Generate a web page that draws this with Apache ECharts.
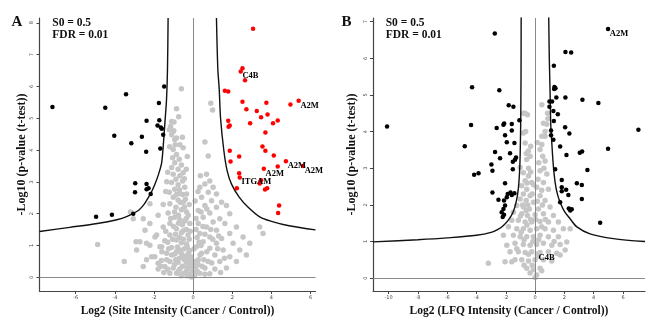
<!DOCTYPE html>
<html><head><meta charset="utf-8">
<script src="https://cdn.jsdelivr.net/npm/echarts@6/dist/echarts.min.js"></script>
<style>html,body{margin:0;padding:0;background:#fff}#c{width:648px;height:322px}</style>
</head><body><div id="c"></div>
<script>
// ---------- tick labels ----------
const aXTicks = [-6, -4, -2, 0, 2, 4, 6];
const aYTicks = [0, 1, 2, 3, 4, 5, 6, 7, 8];
const bXTicks = [-10, -8, -6, -4, -2, 0, 2, 4, 6];
const bYTicks = [0, 1, 2, 3, 4, 5, 6, 7];

// ---------- panel A (Site Intensity) ----------
const aGray = [
[-0.6,5.93],[-0.74,5.05],[-0.98,4.88],[-1.1,4.9],[-1.15,4.74],[-1.22,4.64],[-0.99,4.61],[-1.02,4.58],[-1.1,4.48],[-0.85,4.38],[-0.94,4.33],[-0.92,4.17],[-0.68,4.17],[-0.51,4.07],[-1.02,4.02],[-0.85,3.86],[-1.05,3.76],[-0.71,3.71],[-0.94,3.6],[-0.6,3.53],[-1.1,3.45],[-0.77,3.4],[-0.51,3.29],[-1.02,3.24],[-0.68,3.19],[-0.88,3.08],[-0.45,3.1],[-0.54,3.03],[-1.1,2.98],[-0.77,2.91],[-0.43,2.83],[-0.7,2.75],[-0.94,2.77],[-1.22,2.67],[-0.68,2.64],[-0.34,2.62],[-0.55,2.6],[-1.02,2.52],[-0.77,2.43],[-0.51,2.36],[-1.19,2.31],[-1.53,2.29],[-0.2,2.29],[-0.88,2.2],[-0.6,2.12],[-0.34,2.05],[-1.28,2.02],[-1.79,1.95],[-0.94,1.89],[-0.75,1.95],[-0.35,1.85],[-0.68,1.81],[-0.43,1.77],[-2.21,2.31],[-2.55,1.84],[-3.06,1.84],[-3.2,2.05],[-1.19,1.69],[-2.21,1.69],[-0.17,1.69],[-1.0,1.6],[-1.53,1.58],[-0.85,1.53],[-0.51,1.46],[-1.4,1.45],[-0.6,1.4],[-1.87,1.33],[-1.19,1.33],[-0.26,1.33],[-0.2,1.2],[-2.72,1.12],[-1.45,1.15],[-0.85,1.17],[-0.6,1.09],[-1.3,1.1],[-0.34,1.05],[-2.21,1.01],[-1.7,0.96],[-0.8,0.95],[-1.1,0.94],[-0.45,0.9],[-0.68,0.86],[-0.17,0.84],[-2.89,0.86],[-1.6,0.8],[-1.36,0.76],[-0.25,0.75],[-0.94,0.73],[-0.48,0.67],[-1.96,0.65],[-0.7,0.6],[-0.3,0.6],[-2.38,0.55],[-1.62,0.53],[-1.19,0.5],[-0.77,0.47],[-0.34,0.45],[-0.09,0.5],[-0.95,0.4],[-1.45,0.34],[-0.15,0.35],[-1.02,0.29],[-0.68,0.26],[-0.31,0.24],[-1.79,0.26],[-0.85,0.13],[-0.51,0.11],[-0.4,0.15],[-0.17,0.08],[-1.19,0.13],[-0.09,0.01],[-0.05,0.2],
[-4.88,1.03],[-3.52,0.5],[-2.92,1.12],[-2.46,1.48],[-2.38,1.07],[-2.55,0.34],[-2.12,0.65],[-1.95,1.27],[-1.79,0.44],[-1.61,0.96],
[-0.2,0.1],[-0.3,0.3],[-0.55,0.35],[-0.75,0.2],[-0.9,0.55],[-1.1,0.7],[-1.25,0.9],[-1.05,1.2],[-0.9,1.35],[-0.7,1.25],[-0.5,1.2],[-0.35,1.5],[-0.15,1.45],[-0.55,1.65],[-0.75,1.7],[-0.95,2.05],[-1.15,1.85],[-0.45,2.2],[-0.25,1.95],[-0.65,2.35],[-0.85,2.6],[-0.4,2.45],[-0.3,0.95],[-0.1,0.65],[-0.6,0.75],[-0.85,0.8],[-1.35,0.55],[-1.5,0.15],[-1.3,0.25],[-1.65,0.35],[-0.25,0.45],[-0.45,0.55],[-0.62,0.05],[-0.3,0.05],
[-1.4,2.7],[-1.3,3.3],[-0.35,3.4],[-0.3,3.8],[-0.55,4.4],[-0.85,5.3],[-1.2,4.1],[-1.35,3.0],
[0.9,5.47],[0.99,5.26],[0.6,4.25],[0.77,3.81],[0.37,3.19],[0.68,3.24],[0.85,3.03],[0.6,2.93],[0.34,2.83],[1.02,2.83],[0.77,2.67],[1.19,2.62],[0.43,2.52],[0.94,2.41],[1.45,2.36],[0.6,2.26],[1.19,2.2],[1.7,2.26],[0.26,2.1],[0.85,2.02],[1.87,2.0],[0.51,1.89],[1.36,1.84],[1.02,1.74],[0.26,1.69],[1.62,1.69],[0.68,1.58],[2.21,1.58],[1.19,1.48],[0.34,1.38],[1.87,1.38],[0.85,1.27],[1.45,1.22],[2.55,1.27],[0.51,1.12],[1.19,1.07],[2.04,1.07],[2.89,1.07],[0.17,0.96],[0.85,0.91],[1.53,0.86],[2.38,0.86],[0.43,0.76],[1.11,0.7],[1.87,0.65],[2.72,0.7],[0.26,0.55],[0.77,0.5],[1.36,0.5],[2.21,0.5],[0.14,0.34],[0.6,0.29],[1.11,0.26],[1.7,0.29],[0.34,0.13],[0.85,0.11],[0.09,0.08],[3.4,1.58],[3.57,1.38],
[0.1,0.5],[0.2,0.2],[0.05,0.9],[0.3,1.1],[0.15,1.5],[0.45,0.35],[0.02,0.35],[0.05,0.05],[0.25,0.4],[0.35,0.7],[0.55,0.55],[0.7,0.8],[0.4,1.0],[0.2,1.25],[0.6,1.35],[0.9,1.5],[0.5,1.6],[0.15,1.85],[0.4,2.05],[0.7,2.15],[1.0,1.2],[1.25,0.9],[0.95,0.45],[0.6,0.1],[1.4,0.15],[1.6,0.6],[1.3,1.3],[0.1,2.4],[0.25,2.7]
];
const aBlack = [
[-7.19,5.35],[-4.49,5.33],[-3.43,5.75],[-1.48,6.0],[-1.75,5.48],[-2.38,4.92],[-1.73,4.94],[-1.82,4.77],[-1.65,4.71],[-1.6,4.67],[-1.53,4.48],[-4.03,4.45],[-2.62,4.42],[-3.16,4.21],[-2.4,3.95],[-1.68,4.05],[-2.96,2.96],[-2.38,2.93],[-2.97,2.67],[-2.38,2.77],[-2.28,2.8],[-2.17,2.62],[-4.96,1.9],[-4.15,1.97],[-3.06,2.0]
];
const aRed = [
[3.06,7.81],[2.52,6.57],[2.43,6.47,'C4B'],[2.65,6.19],[1.62,5.86],[1.79,5.84],[2.52,5.52],[3.74,5.49],[5.39,5.55,'A2M'],[4.97,5.43],[2.72,5.28],[3.25,5.23],[3.8,5.12],[3.47,5.03],[4.32,4.93],[4.08,4.84],[1.79,4.92],[1.87,4.77],[1.81,4.73],[2.91,4.84],[3.69,4.55],[3.54,4.11],[3.69,3.98],[1.87,3.98],[2.35,3.8],[4.12,3.83],[1.91,3.64],[4.74,3.65,'A2M'],[4.32,3.48],[5.61,3.5,'A2M'],[3.61,3.41,'A2M'],[2.35,3.27],[2.38,3.14,'ITGAM'],[3.47,3.05],[3.4,2.95],[3.78,2.8],[3.67,2.76],[2.23,2.8],[4.39,2.26],[4.34,2.02]
];
const aCurveLeft = [[-7.85,1.44],[-6.3,1.57],[-4.9,1.69],[-3.9,1.81],[-3.4,1.91],[-2.8,2.1],[-2.5,2.3],[-2.3,2.5],[-2.1,2.72],[-1.95,2.93],[-1.78,3.22],[-1.61,3.6],[-1.52,4.2],[-1.45,4.8],[-1.36,5.6],[-1.31,6.6],[-1.28,8.15]];
const aCurveRight = [[1.19,8.15],[1.26,6.55],[1.33,5.93],[1.4,5.0],[1.57,3.97],[1.74,3.34],[1.96,2.93],[2.35,2.52],[2.81,2.2],[3.4,1.9],[4.0,1.76],[4.9,1.62],[6.25,1.49]];

// ---------- panel B (LFQ Intensity) ----------
const bGray = [
[-0.68,4.5],[-0.52,4.46],[-0.8,4.5],[0.46,4.73],[0.85,4.5],[0.88,4.35],[0.8,4.2],[0.68,4.0],[0.57,4.23],[0.68,3.87],[0.46,3.87],[-0.8,3.96],[-0.64,4.0],[-0.68,3.69],[-0.45,3.47],[-0.34,3.33],[-0.57,3.24],[0.46,3.65],[0.34,3.51],[0.52,3.33],[0.68,3.2],[-1.02,3.02],[-0.8,2.88],[-0.45,2.79],[0.34,2.93],[0.8,2.84],[-0.68,2.66],[-0.23,2.61],[0.57,2.61],[-0.91,2.52],[-0.57,2.43],[0.11,2.48],[0.91,2.43],[-0.8,2.3],[-0.34,2.25],[0.34,2.25],[-1.02,2.16],[-0.61,2.12],[-0.11,2.07],[0.68,2.12],[-1.25,1.98],[-0.8,1.94],[-0.39,1.89],[0.23,1.89],[1.02,1.94],[-1.48,1.8],[-0.91,1.76],[-0.52,1.71],[0,1.73],[0.57,1.76],[1.25,1.71],[-1.59,1.58],[-1.14,1.58],[-0.68,1.53],[-0.23,1.53],[0.34,1.55],[0.91,1.53],[1.59,1.53],[-1.82,1.4],[-1.25,1.35],[-0.8,1.35],[-0.34,1.31],[0.11,1.35],[0.68,1.35],[1.25,1.31],[1.93,1.35],[-2.16,1.17],[-1.48,1.17],[-1.02,1.13],[-0.57,1.13],[-0.11,1.13],[0.34,1.17],[0.91,1.13],[1.59,1.13],[2.39,1.35],[2.16,0.99],[-1.93,0.9],[-1.37,0.95],[-0.8,0.92],[-0.34,0.9],[0.11,0.92],[0.57,0.95],[1.14,0.9],[1.71,0.92],[-1.71,0.72],[-1.14,0.72],[-0.68,0.7],[-0.23,0.72],[0.34,0.7],[0.91,0.72],[1.48,0.68],[-2.05,0.45],[-1.37,0.5],[-0.91,0.5],[-0.45,0.47],[0,0.5],[0.57,0.5],[1.14,0.47],[-0.57,0.27],[-0.11,0.23],[0.34,0.27],[-0.34,0.14],[0.11,0.09],[0,0.02],[-3.19,0.41],[-1.59,0.45],[2.05,0.77],[1.71,0.63],
[-0.5,2.0],[-0.2,2.3],[0.2,2.7],[-0.45,3.0],[0.6,3.0],[-0.3,1.6],[0.45,1.4],[-0.6,1.85],[-0.15,1.0],[0.2,0.6],[-0.45,0.65],[-0.95,1.25],[-1.25,0.8],[-0.75,1.05],[0.7,1.6],[1.3,1.0],[-0.2,0.35],[0.45,0.2],[-0.75,0.35],[0.25,1.05],[-0.55,1.45],[0.05,1.6],[-1.0,1.7],[0.5,2.0],[-0.85,2.0],[0.15,2.1],[-0.1,2.55],[0.45,2.4],[-0.55,2.6],[-0.3,2.9],[0.25,3.15],[-0.6,3.4],[0.15,3.7],[-0.3,3.6],
[0.15,0.66,'C4B']
];
const bBlack = [
[-10.1,4.14],[-4.3,5.21],[-4.37,4.18],[-4.8,3.6],[-4.16,2.82],[-3.86,2.86],[-2.98,3.1],[-2.91,2.93],[-2.91,2.34],[-2.75,6.68],[-2.44,5.13],[-1.8,4.72],[-1.48,4.68],[-1.07,4.31],[-2.62,4.1],[-2.16,4.19],[-2.11,4.22],[-1.59,4.21],[-2.05,3.9],[-1.59,4.03],[-1.93,3.71],[-1.41,3.69],[-2.73,3.44],[-1.71,3.41],[-1.3,3.29],[-1.37,3.23],[-1.52,3.18],[-2.39,3.27],[-1.52,2.97],[-2.05,2.59],[-1.41,2.32],[-1.68,2.34],[-1.87,2.3],[-1.59,2.27],[-2.5,2.14],[-2.12,2.12],[-1.93,2.21],[-2.05,1.98],[-2.16,1.89],[-2.28,1.8],[-2.12,1.73],[-2.21,1.67],
[4.98,6.8,'A2M'],[2.07,6.17],[2.46,6.16],[1.28,5.8],[1.32,5.22],[1.39,5.18],[1.3,5.16],[1.45,4.93],[0.98,4.82],[1.16,4.82],[2.07,4.93],[3.23,4.87],[4.32,4.78],[1.25,4.56],[1.55,4.47],[1.28,4.29],[2.05,4.12],[2.34,3.95],[7.05,4.05],[1.09,4.03],[1.09,3.9],[1.71,3.59],[2.14,3.36],[3.05,3.42],[3.21,3.46],[4.98,3.53],[3.57,2.95],[1.82,2.68],[2.85,2.59],[3.19,2.54],[1.82,2.37],[2.27,2.27],[3.19,2.16],[1.71,2.07],[2.3,1.9],[2.4,1.85],[2.5,1.88],[4.44,1.51],[1.25,3.78],[1.37,2.97],[1.82,2.48],[2.12,2.41],[0.98,4.68]
];
const bCurveLeft = [[-11.06,0.99],[-8,1.05],[-6,1.1],[-4,1.17],[-3,1.25],[-2.5,1.34],[-2.16,1.44],[-1.8,1.6],[-1.48,1.82],[-1.28,2.1],[-1.14,2.45],[-1.06,2.9],[-1.02,3.35],[-0.98,4.3],[-0.96,5.5],[-0.95,7.12]];
const bCurveRight = [[0.93,7.12],[0.97,6.0],[1.02,5.14],[1.07,4.2],[1.14,3.7],[1.24,3.1],[1.37,2.61],[1.52,2.3],[1.71,2.07],[2.0,1.82],[2.39,1.62],[2.85,1.4],[3.75,1.21],[5.35,1.08],[7.5,1.0]];

// ---------- chart ----------
const SERIF = '"Liberation Serif", "Times New Roman", serif';
const chart = echarts.init(document.getElementById('c'), null, {renderer: 'canvas'});

function withLabels(arr) {
  return arr.map(d => d[2] ? {
    value: [d[0], d[1]],
    label: {show: true, formatter: d[2], position: [4, 7], align: 'left', verticalAlign: 'middle',
            fontFamily: SERIF, fontWeight: 'bold', fontSize: 8.5, color: '#000'}
  } : [d[0], d[1]]);
}
function xAx(idx, min, max, ticks, name) {
  return {gridIndex: idx, type: 'value', min, max, splitLine: {show: false},
    axisLine: {show: true, onZero: false, lineStyle: {color: '#444', width: 1.2}},
    axisTick: {show: true, length: 3, customValues: ticks, lineStyle: {color: '#444'}},
    axisLabel: {customValues: ticks, fontSize: 5, color: '#444', margin: 4, fontFamily: 'DejaVu Sans'},
    name, nameLocation: 'middle', nameGap: 14,
    nameTextStyle: {fontFamily: SERIF, fontWeight: 'bold', fontSize: 11.5, color: '#111'}};
}
function yAx(idx, min, max, ticks, gap) {
  return {gridIndex: idx, type: 'value', min, max, splitLine: {show: false},
    axisLine: {show: true, onZero: false, lineStyle: {color: '#444', width: 1.2}},
    axisTick: {show: true, length: 3, customValues: ticks, lineStyle: {color: '#444'}},
    axisLabel: {customValues: ticks, fontSize: 5, color: '#444', margin: 5, rotate: 90, fontFamily: 'DejaVu Sans'},
    name: '-Log10 (p-value (t-test))', nameLocation: 'middle', nameGap: gap,
    nameTextStyle: {fontFamily: SERIF, fontWeight: 'bold', fontSize: 12, color: '#111'}};
}
function pts(idx, data, color, size, z) {
  return {type: 'scatter', xAxisIndex: idx, yAxisIndex: idx, data: withLabels(data),
    symbol: 'circle', symbolSize: size, itemStyle: {color: color, opacity: 1}, z: z, silent: true, animation: false};
}
function curve(idx, data) {
  return {type: 'line', xAxisIndex: idx, yAxisIndex: idx, data: data, showSymbol: false,
    smooth: 0.3, lineStyle: {color: '#111', width: 1.4}, z: 5, silent: true, animation: false};
}
function zeroLines(idx) {
  return {type: 'scatter', xAxisIndex: idx, yAxisIndex: idx, data: [], z: 3, silent: true, animation: false,
    markLine: {symbol: ['none', 'none'], silent: true, animation: false, label: {show: false},
      lineStyle: {color: '#8a8a8a', width: 1, type: 'solid'},
      data: [{xAxis: 0}, {yAxis: 0}]}};
}
const txt = (x, y, s, size) => ({type: 'text', left: x, top: y,
  style: {text: s, font: 'bold ' + size + 'px ' + SERIF, fill: '#111'}});

chart.setOption({
  animation: false,
  grid: [
    {left: 39.5, top: 18, width: 276, height: 276.5},
    {left: 373, top: 18, width: 272, height: 275}
  ],
  xAxis: [
    xAx(0, -7.85, 6.25, aXTicks, 'Log2 (Site Intensity (Cancer / Control))'),
    xAx(1, -11.06, 7.5, bXTicks, 'Log2 (LFQ Intensity (Cancer / Control))')
  ],
  yAxis: [
    yAx(0, -0.43, 8.15, aYTicks, 12),
    yAx(1, -0.35, 7.1, bYTicks, 15)
  ],
  series: [
    pts(0, aGray, '#c6c6c6', 5.5, 2),
    zeroLines(0),
    curve(0, aCurveLeft), curve(0, aCurveRight),
    pts(0, aBlack, '#000', 4.5, 6),
    pts(0, aRed, '#ff0000', 4.5, 6),
    pts(1, bGray, '#c6c6c6', 5.5, 2),
    zeroLines(1),
    curve(1, bCurveLeft), curve(1, bCurveRight),
    pts(1, bBlack, '#000', 4.5, 6)
  ],
  graphic: [
    txt(11.5, 15, 'A', 15),
    txt(341.5, 15, 'B', 15),
    txt(52.3, 17.5, 'S0 = 0.5', 11.5),
    txt(52.3, 29.5, 'FDR = 0.01', 11.5),
    txt(385.7, 17.5, 'S0 = 0.5', 11.5),
    txt(385.7, 29.5, 'FDR = 0.01', 11.5)
  ]
});
</script></body></html>
